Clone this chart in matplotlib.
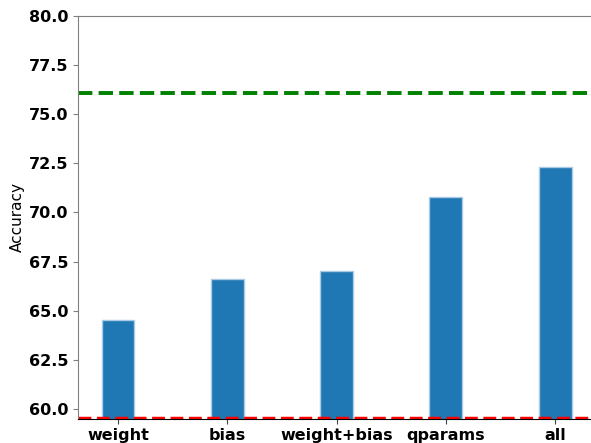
import numpy as np
import matplotlib
matplotlib.use("Agg")
import matplotlib.pyplot as plt

CATEGORIES = ["weight", "bias", "weight+bias", "qparams", "all"]
ACCURACY = [64.5, 66.6, 67.0, 70.77, 72.3]
UPPER_REF = 76.1
LOWER_REF = 59.55

fig = plt.figure(figsize=(5.91, 4.43), dpi=100)
ax = fig.add_axes([78/591, (443-418.7)/443, (595-78)/591, (418.7-16)/443])

x = np.arange(len(CATEGORIES))
ax.bar(x, ACCURACY, width=0.3, color="#1f77b4", edgecolor="#a9cbe6", linewidth=1)
ax.axhline(UPPER_REF, color="green", linestyle="--", linewidth=2.8)
ax.axhline(LOWER_REF, color="red", linestyle="--", linewidth=2.5)

ax.set_ylim(59.5, 80.0)
ax.set_xlim(-0.365, 4.365)
yt = np.arange(60, 80.1, 2.5)
ax.set_yticks(yt)
ax.set_yticklabels(["%.1f" % v for v in yt], fontsize=11.5, fontweight="bold")
ax.set_xticks(x)
ax.set_xticklabels(CATEGORIES, fontsize=11.5, fontweight="bold")
ax.set_ylabel("Accuracy", fontsize=11, labelpad=3)

for side in ["left", "top", "right"]:
    ax.spines[side].set_color("gray")
ax.tick_params(axis="y", colors="gray", labelcolor="black")
ax.tick_params(axis="x", colors="#444444", labelcolor="black")

fig.savefig("out.png", dpi=100)
